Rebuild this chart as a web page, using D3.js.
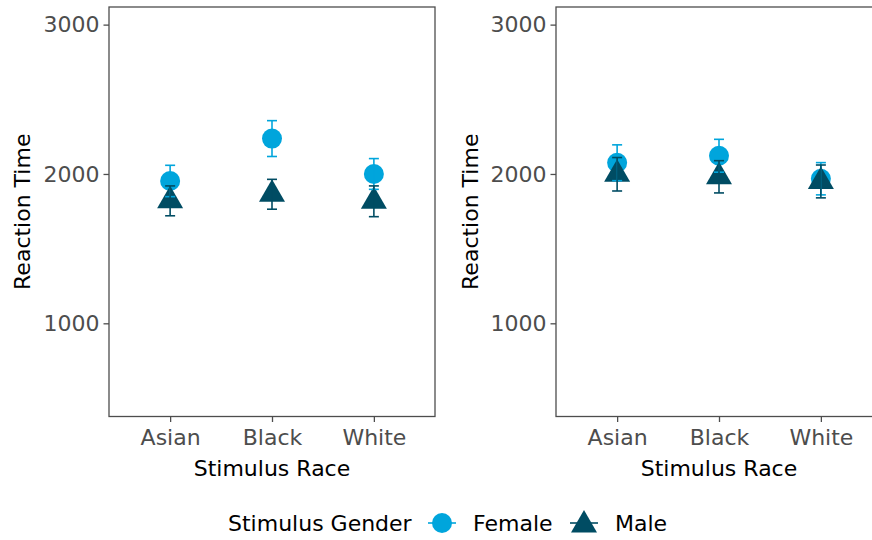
<!DOCTYPE html>
<html>
<head>
<meta charset="utf-8">
<script src="https://cdn.jsdelivr.net/npm/d3@7"></script>
<style>
  html, body { margin: 0; padding: 0; background: #fff; }
  svg { display: block; font-family: "DejaVu Sans", sans-serif; }
</style>
</head>
<body>
<svg id="chart" width="872" height="540"></svg>
<script>
const categories = ["Asian", "Black", "White"];
const genders = ["Female", "Male"];
const yTicks = [1000, 2000, 3000];

// Left panel
const leftFemale = [1953, 2237, 2000];
const leftFemaleErr = [105, 120, 103];
const leftMale = [1820, 1864, 1817];
const leftMaleErr = [100, 100, 103];
// Right panel
const rightFemale = [2075, 2122, 1968];
const rightFemaleErr = [120, 110, 108];
const rightMale = [1998, 1981, 1950];
const rightMaleErr = [112, 108, 110];

const colors = { Female: "#00A5DC", Male: "#004C63" };

const svg = d3.select("#chart");

const panelTop = 7, panelBottom = 416.5, panelW = 326;
const y = d3.scaleLinear().domain([376, 3118]).range([panelBottom, panelTop]);

function makeRows(fem, femErr, mal, malErr) {
  const rows = [];
  categories.forEach((c, i) => {
    rows.push({ cat: c, g: "Female", v: fem[i], e: femErr[i] });
  });
  categories.forEach((c, i) => {
    rows.push({ cat: c, g: "Male", v: mal[i], e: malErr[i] });
  });
  return rows;
}

const panels = [
  { x0: 109, titleX: 22, rows: makeRows(leftFemale, leftFemaleErr, leftMale, leftMaleErr) },
  { x0: 556, titleX: 470, rows: makeRows(rightFemale, rightFemaleErr, rightMale, rightMaleErr) }
];

const circleSym = d3.symbol().type(d3.symbolCircle).size(Math.PI * 10 * 10);
function triPath(cx, cy, r) {
  // centroid-centred triangle, apex r above, base r/2 below
  const xc = r * Math.sqrt(3) / 2;
  return `M${cx},${cy - r}L${cx + xc},${cy + r / 2}L${cx - xc},${cy + r / 2}Z`;
}

panels.forEach(p => {
  const x = d3.scalePoint().domain(categories).range([p.x0, p.x0 + panelW]).padding(0.6);
  const g = svg.append("g");

  // points
  p.rows.forEach(d => {
    const cx = x(d.cat), cy = y(d.v);
    if (d.g === "Female") {
      g.append("path").attr("transform", `translate(${cx},${cy})`).attr("d", circleSym())
        .attr("fill", colors.Female);
    } else {
      g.append("path").attr("d", triPath(cx, cy, 15)).attr("fill", colors.Male);
    }
  });
  // error bars
  p.rows.forEach(d => {
    const cx = x(d.cat);
    const eg = g.append("g").attr("stroke", colors[d.g]).attr("stroke-width", 1.6).attr("fill", "none");
    eg.append("line").attr("x1", cx).attr("x2", cx).attr("y1", y(d.v + d.e)).attr("y2", y(d.v - d.e));
    eg.append("line").attr("x1", cx - 5).attr("x2", cx + 5).attr("y1", y(d.v + d.e)).attr("y2", y(d.v + d.e));
    eg.append("line").attr("x1", cx - 5).attr("x2", cx + 5).attr("y1", y(d.v - d.e)).attr("y2", y(d.v - d.e));
  });

  // border
  g.append("rect").attr("x", p.x0).attr("y", panelTop).attr("width", panelW).attr("height", panelBottom - panelTop)
    .attr("fill", "none").attr("stroke", "#4D4D4D").attr("stroke-width", 1.3);

  // y axis
  const ya = g.append("g").attr("transform", `translate(${p.x0},0)`)
    .call(d3.axisLeft(y).tickValues(yTicks).tickSize(5.5).tickPadding(4).tickFormat(d3.format("d")));
  ya.select(".domain").remove();
  ya.selectAll("line").attr("stroke", "#4D4D4D").attr("stroke-width", 1.3);
  ya.selectAll("text").attr("fill", "#4D4D4D").style("font-size", "22px").style("font-family", "DejaVu Sans");

  // x axis
  const xa = g.append("g").attr("transform", `translate(0,${panelBottom})`)
    .call(d3.axisBottom(x).tickSize(5.5).tickPadding(7));
  xa.select(".domain").remove();
  xa.selectAll("line").attr("stroke", "#4D4D4D").attr("stroke-width", 1.3);
  xa.selectAll("text").attr("fill", "#4D4D4D").style("font-size", "22px").style("font-family", "DejaVu Sans");

  // titles
  g.append("text").attr("x", p.x0 + panelW / 2).attr("y", 476).attr("text-anchor", "middle")
    .style("font-size", "22px").attr("fill", "#000").text("Stimulus Race");
  g.append("text").attr("transform", `translate(${p.titleX + 8},${(panelTop + panelBottom) / 2}) rotate(-90)`)
    .attr("text-anchor", "middle").style("font-size", "22px").attr("fill", "#000").text("Reaction Time");
});

// legend
const lg = svg.append("g");
lg.append("text").attr("x", 228).attr("y", 531).style("font-size", "22px").attr("fill", "#000").text("Stimulus Gender");
const legendItems = [
  { g: genders[0], cx: 442, tx: 473 },
  { g: genders[1], cx: 584, tx: 615 }
];
legendItems.forEach(it => {
  const cy = 523;
  lg.append("line").attr("x1", it.cx - 14).attr("x2", it.cx + 14).attr("y1", cy).attr("y2", cy)
    .attr("stroke", colors[it.g]).attr("stroke-width", 1.6);
  if (it.g === "Female") {
    lg.append("path").attr("transform", `translate(${it.cx},${cy})`).attr("d", circleSym()).attr("fill", colors.Female);
  } else {
    lg.append("path").attr("d", triPath(it.cx, cy + 2, 15)).attr("fill", colors.Male);
  }
  lg.append("text").attr("x", it.tx).attr("y", 531).style("font-size", "22px").attr("fill", "#000").text(it.g);
});
</script>
</body>
</html>
